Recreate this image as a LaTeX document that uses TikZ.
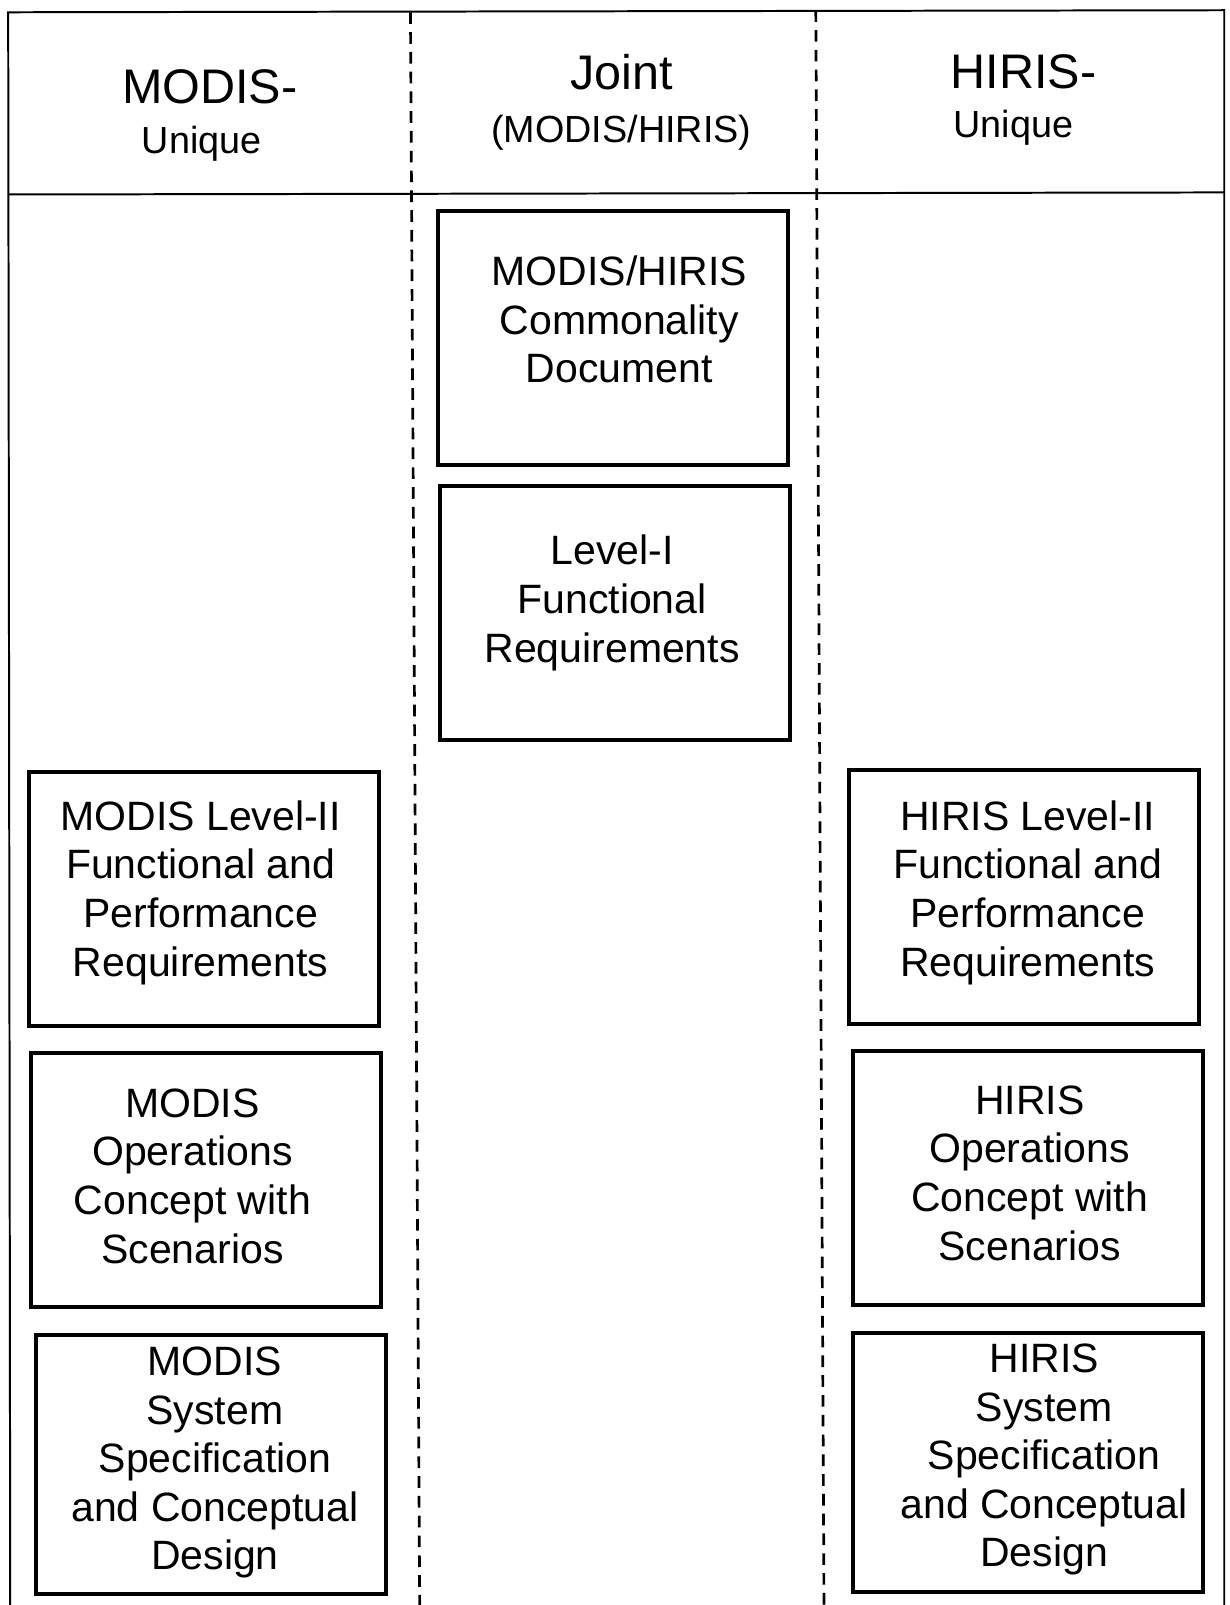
\documentclass[tikz,border=0pt]{standalone}
\usepackage{fontspec}
\setmainfont{Liberation Sans}

\tikzset{
	box/.style={draw, line width=2.2pt, minimum width=6.84cm, minimum height=4.96cm},
	sysbox/.style={box, minimum height=5.06cm},
	boxtext/.style={align=center, font=\fontsize{22.8}{27}\selectfont},
	headbig/.style={font=\fontsize{27}{30}\selectfont},
	headsmall/.style={font=\fontsize{21}{24}\selectfont},
	divider/.style={line width=1.5pt, dash pattern=on 6.5pt off 4.5pt}
}

\begin{document}
\begin{tikzpicture}[x=0.02cm, y=-0.02cm]

	\useasboundingbox (0,0) rectangle (1201,1568);

	% frame and header
	\draw [line width=1.1pt] (10,1568)--(8,12)--(1196,10)--(1196,1568);
	\draw [line width=1.1pt] (8,190)--(1196,188);

	\draw [divider] (401,12)--(410,1568);
	\draw [divider] (797,10)--(805,1568);

	\node (mhead) [headbig] at (205,85) {MODIS-};
	\node (muniq) [headsmall] at (197,140) {Unique};
	\node (jhead) [headbig] at (607,70) {Joint};
	\node (jsub) [headsmall] at (607,130) {(MODIS/HIRIS)};
	\node (hhead) [headbig] at (1000,70) {HIRIS-};
	\node (huniq) [headsmall] at (990,125) {Unique};

	% joint column
	\node (cdoc) [box] at (599,330) {};
	\node (lvlone) [box] at (601,599) {};
	\node (cdoctxt) [boxtext] at (605,312) {MODIS/HIRIS\\Commonality\\Document};
	\node (lvlonetxt) [boxtext] at (598,589) {Level-I\\Functional\\Requirements};

	% MODIS column
	\node (mreq) [box] at (199,878) {};
	\node (mops) [box] at (201,1153) {};
	\node (msys) [sysbox] at (206,1431) {};
	\node (mreqtxt) [boxtext] at (196,872) {MODIS Level-II\\Functional and\\Performance\\Requirements};
	\node (mopstxt) [boxtext] at (188,1149) {MODIS\\Operations\\Concept with\\Scenarios};
	\node (msystxt) [boxtext] at (210,1429) {MODIS\\System\\Specification\\and Conceptual\\Design};

	% HIRIS column
	\node (hreq) [box] at (1000,876) {};
	\node (hops) [box] at (1004,1151) {};
	\node (hsys) [sysbox] at (1004,1429) {};
	\node (hreqtxt) [boxtext] at (1004,872) {HIRIS Level-II\\Functional and\\Performance\\Requirements};
	\node (hopstxt) [boxtext] at (1006,1146) {HIRIS\\Operations\\Concept with\\Scenarios};
	\node (hsystxt) [boxtext] at (1020,1426) {HIRIS\\System\\Specification\\and Conceptual\\Design};

\end{tikzpicture}
\end{document}
